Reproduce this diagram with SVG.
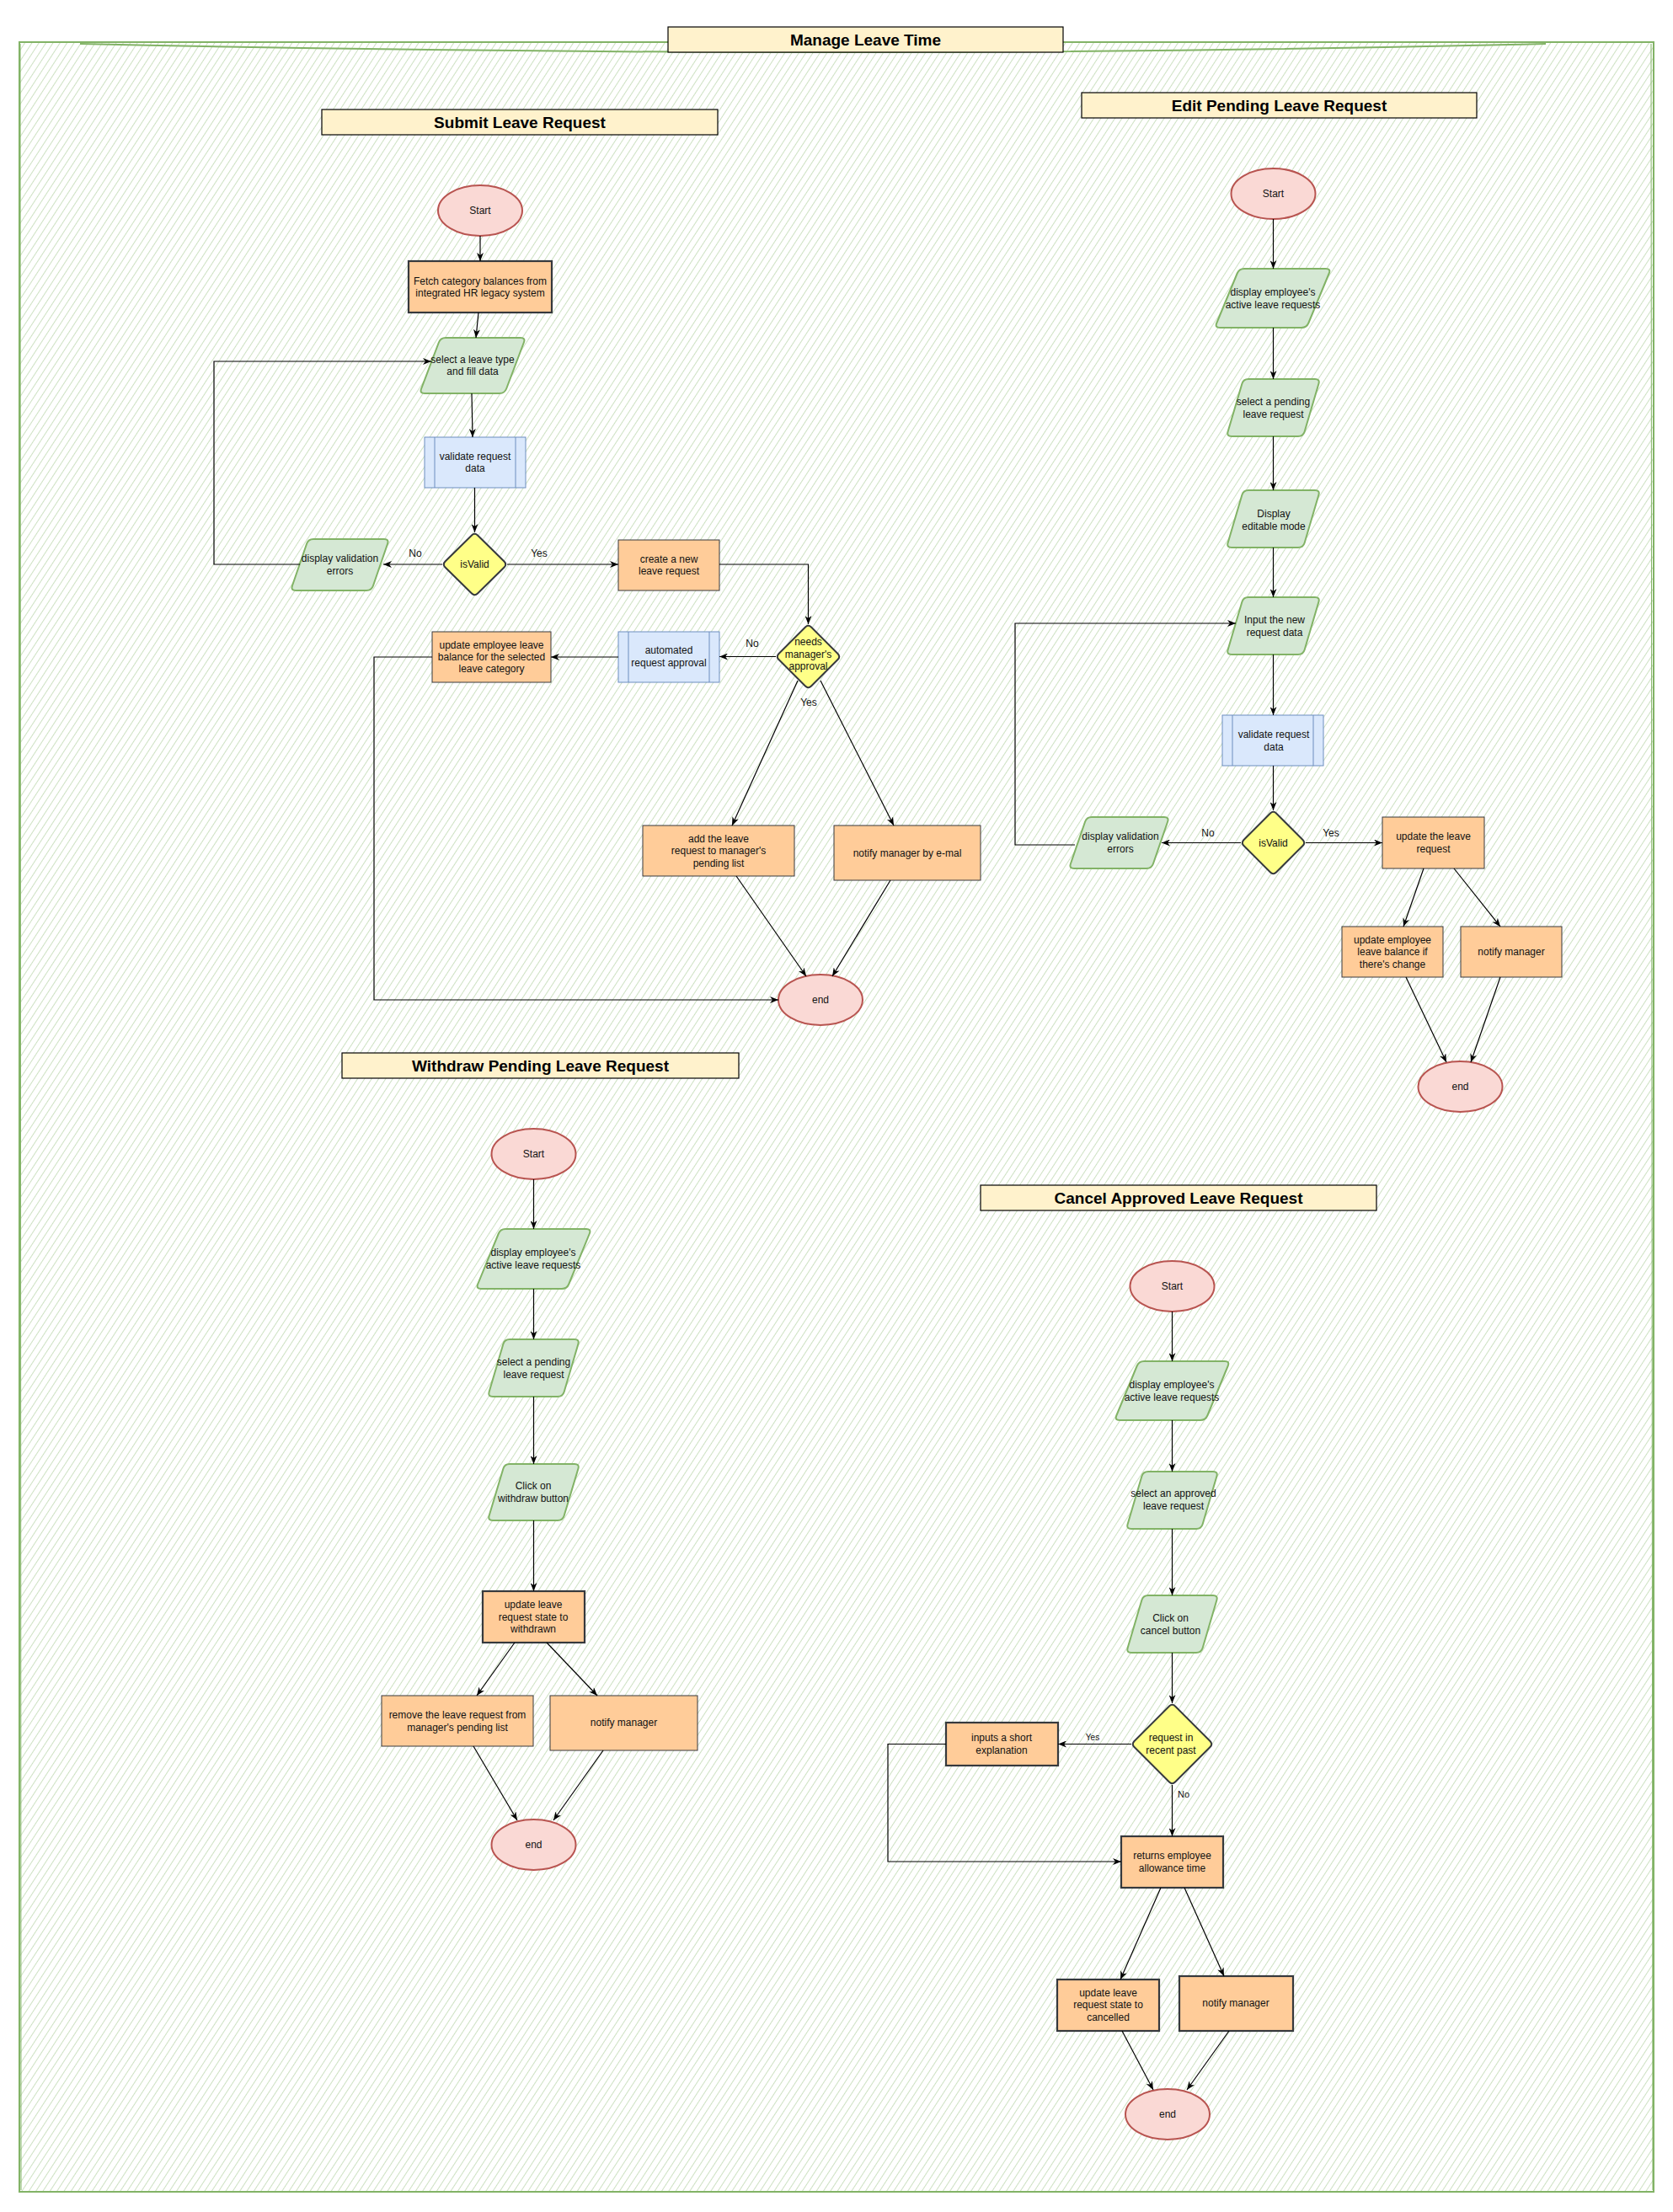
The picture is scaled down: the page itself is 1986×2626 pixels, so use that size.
<svg xmlns="http://www.w3.org/2000/svg" width="1986" height="2626" viewBox="0 0 1986 2626">
<defs>
<pattern id="hatch" patternUnits="userSpaceOnUse" width="7" height="7" patternTransform="rotate(-57)">
<line x1="0" y1="3.5" x2="7" y2="3.5" stroke="#82b366" stroke-opacity="0.4" stroke-width="1"/>
</pattern>
<marker id="arr" markerUnits="userSpaceOnUse" viewBox="0 0 10 8" markerWidth="10" markerHeight="8" refX="10" refY="4" orient="auto">
<path d="M0,0 L10,4 L0,8 L3,4 Z" fill="#000"/>
</marker>
<style>
text{font-family:"Liberation Sans",Arial,Helvetica,sans-serif;fill:#111;text-anchor:middle}
.t{font-size:12px}
.ttl{font-size:19px;font-weight:bold;fill:#000}
.lbl{font-size:12px}
.title{fill:#fff2cc;stroke:#000;stroke-width:1.2}
.ell{fill:#fad9d5;stroke:#b85450;stroke-width:2}
.para{fill:#d5e8d4;stroke:#82b366;stroke-width:2}
.proc{fill:#dae8fc;stroke:#6c8ebf;stroke-width:1}
.box{fill:#ffcc99;stroke:#36393d;stroke-width:1}
.boxb{fill:#ffcc99;stroke:#36393d;stroke-width:2.2}
.dia{fill:#ffff88;stroke:#36393d;stroke-width:2}
.edge{fill:none;stroke:#000;stroke-width:1.2;marker-end:url(#arr)}
</style>
</defs>
<rect x="0" y="0" width="1986" height="2626" fill="#fff"/>

<g id="container">
<rect x="23" y="50" width="1940" height="2552" fill="url(#hatch)" stroke="#82b366" stroke-width="2"/>
<path d="M95,52 Q1000,72 1835,52" fill="none" stroke="#82b366" stroke-width="2"/>
<path d="M24,52 L25,2600" fill="none" stroke="#82b366" stroke-width="1"/>
<path d="M1960,52 L1962,2600" fill="none" stroke="#82b366" stroke-width="1"/>
</g>

<g id="title-main">
<rect class="title" x="793" y="32" width="469" height="30"/>
<text class="ttl" x="1027.5" y="53.8">Manage Leave Time</text>
</g>

<!-- ===== Submit Leave Request ===== -->
<g id="title-submit">
<rect class="title" x="382" y="130" width="470" height="30"/>
<text class="ttl" x="617" y="151.8">Submit Leave Request</text>
</g>
<g id="s-start"><ellipse class="ell" cx="570" cy="250" rx="50" ry="30"/><text class="t" x="570" y="254.2">Start</text></g>
<g id="s-fetch"><rect class="boxb" x="485" y="310" width="170" height="61"/><text class="t" x="570" y="337.5">Fetch category balances from</text><text class="t" x="570" y="351.9">integrated HR legacy system</text></g>
<g id="s-select"><path class="para" d="M529,401 L618,401 Q624,401 621.9,406.5 L601.1,461.5 Q599,467 593,467 L504,467 Q498,467 500.1,461.5 L520.9,406.5 Q523,401 529,401 Z"/><text class="t" x="561" y="431">select a leave type</text><text class="t" x="561" y="445.4">and fill data</text></g>
<g id="s-validate"><rect class="proc" x="504" y="519" width="120" height="60"/><line x1="516" y1="519" x2="516" y2="579" stroke="#6c8ebf"/><line x1="612" y1="519" x2="612" y2="579" stroke="#6c8ebf"/><text class="t" x="564" y="546">validate request</text><text class="t" x="564" y="560.4">data</text></g>
<g id="s-isvalid"><path class="dia" d="M567,635.5 L598.5,666.5 Q602,670 598.5,673.5 L567,704.5 Q563.5,708 560,704.5 L528.5,673.5 Q525,670 528.5,666.5 L560,635.5 Q563.5,632 567,635.5 Z"/><text class="t" x="563.5" y="674.2">isValid</text></g>
<g id="s-display"><path class="para" d="M372,640 L456,640 Q462,640 460.1,645.5 L442.9,695.5 Q441,701 435,701 L351,701 Q345,701 346.9,695.5 L364.1,645.5 Q366,640 372,640 Z"/><text class="t" x="403.5" y="667">display validation</text><text class="t" x="403.5" y="681.6">errors</text></g>
<g id="s-create"><rect class="box" x="734" y="641" width="120" height="60"/><text class="t" x="794" y="667.5">create a new</text><text class="t" x="794" y="682">leave request</text></g>
<g id="s-needs"><path class="dia" d="M963,744.5 L994.5,776 Q998,779.5 994.5,783 L963,814.5 Q959.5,818 956,814.5 L924.5,783 Q921,779.5 924.5,776 L956,744.5 Q959.5,741 963,744.5 Z"/><text class="t" x="959.5" y="766.2">needs</text><text class="t" x="959.5" y="780.7">manager's</text><text class="t" x="959.5" y="795.2">approval</text></g>
<g id="s-auto"><rect class="proc" x="734" y="750" width="120" height="60"/><line x1="746" y1="750" x2="746" y2="810" stroke="#6c8ebf"/><line x1="842" y1="750" x2="842" y2="810" stroke="#6c8ebf"/><text class="t" x="794" y="776">automated</text><text class="t" x="794" y="791">request approval</text></g>
<g id="s-update"><rect class="box" x="513" y="750" width="141" height="60"/><text class="t" x="583.5" y="769.6">update employee leave</text><text class="t" x="583.5" y="784">balance for the selected</text><text class="t" x="583.5" y="798.4">leave category</text></g>
<g id="s-add"><rect class="box" x="763" y="980" width="180" height="60"/><text class="t" x="853" y="999.8">add the leave</text><text class="t" x="853" y="1014.2">request to manager's</text><text class="t" x="853" y="1028.6">pending list</text></g>
<g id="s-notify"><rect class="box" x="990" y="980" width="174" height="65"/><text class="t" x="1077" y="1016.7">notify manager by e-mal</text></g>
<g id="s-end"><ellipse class="ell" cx="974" cy="1187" rx="50" ry="30"/><text class="t" x="974" y="1191.2">end</text></g>

<!-- ===== Edit Pending Leave Request ===== -->
<g id="title-edit">
<rect class="title" x="1284" y="110" width="469" height="30"/>
<text class="ttl" x="1518.5" y="131.8">Edit Pending Leave Request</text>
</g>
<g id="e-start"><ellipse class="ell" cx="1511.5" cy="230" rx="50" ry="30"/><text class="t" x="1511.5" y="234.2">Start</text></g>
<g id="e-display"><path class="para" d="M1477,319 L1574,319 Q1580,319 1577.7,324.5 L1553.3,383.5 Q1551,389 1545,389 L1448,389 Q1442,389 1444.3,383.5 L1468.7,324.5 Q1471,319 1477,319 Z"/><text class="t" x="1511" y="351.2">display employee's</text><text class="t" x="1511" y="365.9">active leave requests</text></g>
<g id="e-select"><path class="para" d="M1482,450 L1561,450 Q1567,450 1565.4,455.5 L1548.6,512.5 Q1547,518 1541,518 L1462,518 Q1456,518 1457.6,512.5 L1474.4,455.5 Q1476,450 1482,450 Z"/><text class="t" x="1511.5" y="481">select a pending</text><text class="t" x="1511.5" y="495.8">leave request</text></g>
<g id="e-editable"><path class="para" d="M1482,582 L1561,582 Q1567,582 1565.4,587.5 L1548.6,644.5 Q1547,650 1541,650 L1462,650 Q1456,650 1457.6,644.5 L1474.4,587.5 Q1476,582 1482,582 Z"/><text class="t" x="1512" y="613.6">Display</text><text class="t" x="1512" y="628.8">editable mode</text></g>
<g id="e-input"><path class="para" d="M1482,709 L1561,709 Q1567,709 1565.4,714.5 L1548.6,771.5 Q1547,777 1541,777 L1462,777 Q1456,777 1457.6,771.5 L1474.4,714.5 Q1476,709 1482,709 Z"/><text class="t" x="1513" y="740">Input the new</text><text class="t" x="1513" y="754.7">request data</text></g>
<g id="e-validate"><rect class="proc" x="1451" y="849" width="120" height="60"/><line x1="1463" y1="849" x2="1463" y2="909" stroke="#6c8ebf"/><line x1="1559" y1="849" x2="1559" y2="909" stroke="#6c8ebf"/><text class="t" x="1512" y="876">validate request</text><text class="t" x="1512" y="890.5">data</text></g>
<g id="e-isvalid"><path class="dia" d="M1515,965.5 L1546.5,997 Q1550,1000.5 1546.5,1004 L1515,1035.5 Q1511.5,1039 1508,1035.5 L1476.5,1004 Q1473,1000.5 1476.5,997 L1508,965.5 Q1511.5,962 1515,965.5 Z"/><text class="t" x="1511.5" y="1004.7">isValid</text></g>
<g id="e-disperr"><path class="para" d="M1296,970 L1382,970 Q1388,970 1386.1,975.5 L1368.9,1025.5 Q1367,1031 1361,1031 L1275,1031 Q1269,1031 1270.9,1025.5 L1288.1,975.5 Q1290,970 1296,970 Z"/><text class="t" x="1330" y="997">display validation</text><text class="t" x="1330" y="1012">errors</text></g>
<g id="e-updreq"><rect class="box" x="1641" y="970" width="121" height="61"/><text class="t" x="1701.5" y="997">update the leave</text><text class="t" x="1701.5" y="1012">request</text></g>
<g id="e-updbal"><rect class="box" x="1593" y="1100" width="120" height="60"/><text class="t" x="1653" y="1120">update employee</text><text class="t" x="1653" y="1134.3">leave balance if</text><text class="t" x="1653" y="1148.6">there's change</text></g>
<g id="e-notify"><rect class="box" x="1734" y="1100" width="120" height="60"/><text class="t" x="1794" y="1134.2">notify manager</text></g>
<g id="e-end"><ellipse class="ell" cx="1733.5" cy="1290" rx="50" ry="30"/><text class="t" x="1733.5" y="1294.2">end</text></g>

<!-- ===== Withdraw Pending Leave Request ===== -->
<g id="title-withdraw">
<rect class="title" x="406" y="1250" width="471" height="30"/>
<text class="ttl" x="641.5" y="1271.8">Withdraw Pending Leave Request</text>
</g>
<g id="w-start"><ellipse class="ell" cx="633.5" cy="1370" rx="50" ry="30"/><text class="t" x="633.5" y="1374.2">Start</text></g>
<g id="w-display"><path class="para" d="M600,1459 L696,1459 Q702,1459 699.8,1464.5 L675.2,1524.5 Q673,1530 667,1530 L571,1530 Q565,1530 567.2,1524.5 L591.8,1464.5 Q594,1459 600,1459 Z"/><text class="t" x="633" y="1490.6">display employee's</text><text class="t" x="633" y="1505.9">active leave requests</text></g>
<g id="w-select"><path class="para" d="M605,1590 L682,1590 Q688,1590 686.4,1595.5 L669.6,1652.5 Q668,1658 662,1658 L585,1658 Q579,1658 580.6,1652.5 L597.4,1595.5 Q599,1590 605,1590 Z"/><text class="t" x="633.5" y="1621">select a pending</text><text class="t" x="633.5" y="1636">leave request</text></g>
<g id="w-click"><path class="para" d="M605,1738 L682,1738 Q688,1738 686.4,1743.5 L669.6,1799.5 Q668,1805 662,1805 L585,1805 Q579,1805 580.6,1799.5 L597.4,1743.5 Q599,1738 605,1738 Z"/><text class="t" x="633" y="1767.7">Click on</text><text class="t" x="633" y="1782.6">withdraw button</text></g>
<g id="w-update"><rect class="boxb" x="573" y="1889" width="121" height="61"/><text class="t" x="633" y="1909.2">update leave</text><text class="t" x="633" y="1923.5">request state to</text><text class="t" x="633" y="1937.9">withdrawn</text></g>
<g id="w-remove"><rect class="box" x="453" y="2013" width="180" height="60"/><text class="t" x="543" y="2040">remove the leave request from</text><text class="t" x="543" y="2054.6">manager's pending list</text></g>
<g id="w-notify"><rect class="box" x="653" y="2013" width="175" height="65"/><text class="t" x="740.5" y="2049.2">notify manager</text></g>
<g id="w-end"><ellipse class="ell" cx="633.5" cy="2190" rx="50" ry="30"/><text class="t" x="633.5" y="2194.2">end</text></g>

<!-- ===== Cancel Approved Leave Request ===== -->
<g id="title-cancel">
<rect class="title" x="1164" y="1407" width="470" height="30"/>
<text class="ttl" x="1399" y="1428.8">Cancel Approved Leave Request</text>
</g>
<g id="c-start"><ellipse class="ell" cx="1391.5" cy="1527" rx="50" ry="30"/><text class="t" x="1391.5" y="1531.2">Start</text></g>
<g id="c-display"><path class="para" d="M1358,1616 L1454,1616 Q1460,1616 1457.7,1621.5 L1433.3,1680.5 Q1431,1686 1425,1686 L1329,1686 Q1323,1686 1325.3,1680.5 L1349.7,1621.5 Q1352,1616 1358,1616 Z"/><text class="t" x="1391" y="1647.9">display employee's</text><text class="t" x="1391" y="1662.8">active leave requests</text></g>
<g id="c-select"><path class="para" d="M1363,1747 L1440,1747 Q1446,1747 1444.4,1752.5 L1427.6,1809.5 Q1426,1815 1420,1815 L1343,1815 Q1337,1815 1338.6,1809.5 L1355.4,1752.5 Q1357,1747 1363,1747 Z"/><text class="t" x="1393" y="1776.9">select an approved</text><text class="t" x="1393" y="1791.8">leave request</text></g>
<g id="c-click"><path class="para" d="M1363,1894 L1440,1894 Q1446,1894 1444.4,1899.5 L1427.6,1956.5 Q1426,1962 1420,1962 L1343,1962 Q1337,1962 1338.6,1956.5 L1355.4,1899.5 Q1357,1894 1363,1894 Z"/><text class="t" x="1389.5" y="1924.6">Click on</text><text class="t" x="1389.5" y="1939.5">cancel button</text></g>
<g id="c-recent"><path class="dia" d="M1395,2025.5 L1436.5,2067 Q1440,2070.5 1436.5,2074 L1395,2115.5 Q1391.5,2119 1388,2115.5 L1346.5,2074 Q1343,2070.5 1346.5,2067 L1388,2025.5 Q1391.5,2022 1395,2025.5 Z"/><text class="t" x="1390" y="2066.7">request in</text><text class="t" x="1390" y="2081.9">recent past</text></g>
<g id="c-inputs"><rect class="boxb" x="1123" y="2045" width="133" height="51"/><text class="t" x="1189" y="2066.7">inputs a short</text><text class="t" x="1189" y="2081.9">explanation</text></g>
<g id="c-returns"><rect class="boxb" x="1331" y="2180" width="121" height="61"/><text class="t" x="1391.5" y="2207">returns employee</text><text class="t" x="1391.5" y="2221.7">allowance time</text></g>
<g id="c-updcancel"><rect class="boxb" x="1255" y="2350" width="121" height="61"/><text class="t" x="1315.5" y="2369.7">update leave</text><text class="t" x="1315.5" y="2383.8">request state to</text><text class="t" x="1315.5" y="2399">cancelled</text></g>
<g id="c-notify"><rect class="boxb" x="1400" y="2346" width="135" height="65"/><text class="t" x="1467" y="2382.2">notify manager</text></g>
<g id="c-end"><ellipse class="ell" cx="1386" cy="2510" rx="50" ry="30"/><text class="t" x="1386" y="2514.2">end</text></g>

<!-- ===== Connectors ===== -->
<g id="connectors">
<path class="edge" d="M570,280 L570,310"/>
<path class="edge" d="M568,371 L565,401"/>
<path class="edge" d="M560,467 L561,519"/>
<path class="edge" d="M563.5,579 L563.5,632"/>
<path class="edge" d="M525,670 L455,670"/>
<path class="edge" d="M602,670 L734,670"/>
<path class="edge" d="M356,670 L254,670 L254,429 L512,429"/>
<path class="edge" d="M854,670 L959.5,670 L959.5,741"/>
<path class="edge" d="M921,779.5 L854,779.5"/>
<path class="edge" d="M734,780 L654,780"/>
<path class="edge" d="M513,780 L444,780 L444,1187 L924,1187"/>
<path class="edge" d="M947,808 L869,980"/>
<path class="edge" d="M974,808 L1061,980"/>
<path class="edge" d="M874,1040 L957,1159"/>
<path class="edge" d="M1057,1045 L988,1159"/>

<path class="edge" d="M1511.5,260 L1511.5,319"/>
<path class="edge" d="M1511.5,389 L1511.5,450"/>
<path class="edge" d="M1511.5,518 L1511.5,582"/>
<path class="edge" d="M1511.5,650 L1511.5,709"/>
<path class="edge" d="M1511.5,777 L1511.5,849"/>
<path class="edge" d="M1511.5,909 L1511.5,962"/>
<path class="edge" d="M1473,1000.5 L1379,1000.5"/>
<path class="edge" d="M1550,1000.5 L1641,1000.5"/>
<path class="edge" d="M1276,1003 L1205,1003 L1205,740 L1467,740"/>
<path class="edge" d="M1690,1031 L1666,1100"/>
<path class="edge" d="M1726,1031 L1781,1100"/>
<path class="edge" d="M1669,1160 L1717,1261"/>
<path class="edge" d="M1781,1160 L1746,1261"/>

<path class="edge" d="M633.5,1400 L633.5,1459"/>
<path class="edge" d="M633.5,1530 L633.5,1590"/>
<path class="edge" d="M633.5,1658 L633.5,1738"/>
<path class="edge" d="M633.5,1805 L633.5,1889"/>
<path class="edge" d="M611,1950 L566,2013"/>
<path class="edge" d="M649,1950 L709,2013"/>
<path class="edge" d="M562,2073 L614,2161"/>
<path class="edge" d="M716,2078 L657,2161"/>

<path class="edge" d="M1391.5,1557 L1391.5,1616"/>
<path class="edge" d="M1391.5,1686 L1391.5,1747"/>
<path class="edge" d="M1391.5,1815 L1391.5,1894"/>
<path class="edge" d="M1391.5,1962 L1391.5,2022"/>
<path class="edge" d="M1343,2070.5 L1256,2070.5"/>
<path class="edge" d="M1123,2070.5 L1054,2070.5 L1054,2210 L1331,2210"/>
<path class="edge" d="M1391.5,2119 L1391.5,2180"/>
<path class="edge" d="M1378,2241 L1330,2350"/>
<path class="edge" d="M1406,2241 L1453,2346"/>
<path class="edge" d="M1332,2411 L1369,2481"/>
<path class="edge" d="M1459,2411 L1409,2481"/>

<text class="lbl" x="493" y="661">No</text>
<text class="lbl" x="640" y="661">Yes</text>
<text class="lbl" x="893" y="768">No</text>
<text class="lbl" x="960" y="838">Yes</text>
<text class="lbl" x="1434" y="993">No</text>
<text class="lbl" x="1580" y="993">Yes</text>
<text class="lbl" x="1297" y="2065.5" style="font-size:10px">Yes</text>
<text class="lbl" x="1405" y="2134" style="font-size:11px">No</text>
</g>
</svg>
